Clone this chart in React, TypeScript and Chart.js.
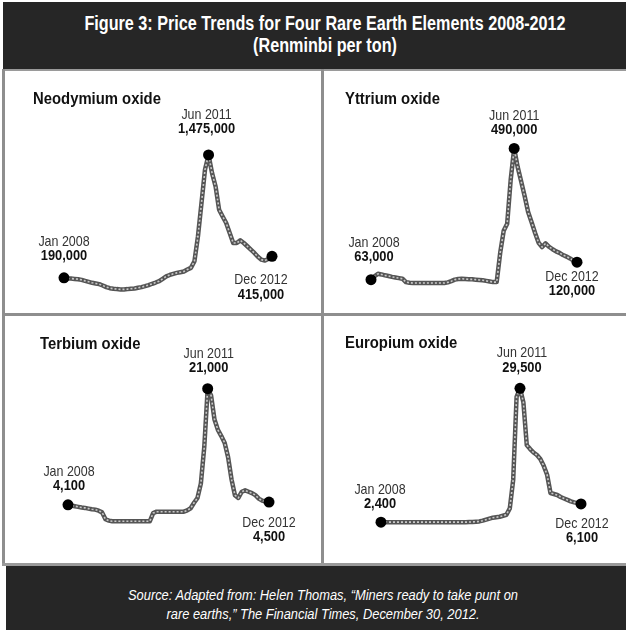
import React, { useEffect, useRef } from "react";
import { Chart, registerables } from "chart.js";

Chart.register(...registerables);

// ---- data ----
const MONTH_NAMES = ["Jan", "Feb", "Mar", "Apr", "May", "Jun", "Jul", "Aug", "Sep", "Oct", "Nov", "Dec"];
const YEARS = [2008, 2009, 2010, 2011, 2012];
const MONTHS: string[] = YEARS.flatMap((y) => MONTH_NAMES.map((m) => `${m} ${y}`));

const NEODYMIUM = [
  190000, 183000, 182000, 179000, 176000, 169000, 158000, 148000, 138000, 131000,
  124000, 110000, 93000, 82000, 76000, 72000, 69000, 69000, 72000, 76000,
  79000, 86000, 93000, 103000, 114000, 128000, 141000, 155000, 180000, 205000,
  220000, 232000, 242000, 249000, 256000, 277000, 294000, 364000, 625000, 973000,
  1322000, 1475000, 1285000, 1145000, 902000, 832000, 763000, 659000, 554000, 554000,
  582000, 554000, 520000, 485000, 450000, 410000, 380000, 370000, 390000, 415000,
];

const YTTRIUM = [
  63000, 74000, 82000, 80000, 77000, 75000, 72000, 70000, 68000, 66000,
  55000, 53000, 52000, 52000, 52000, 52000, 52000, 52000, 52000, 52000,
  52000, 52000, 54000, 58000, 63000, 65000, 66000, 65000, 64000, 64000,
  63000, 62000, 61000, 59000, 57000, 55000, 55000, 150000, 222000, 245000,
  387000, 490000, 430000, 383000, 335000, 283000, 250000, 215000, 183000, 169000,
  181000, 170000, 162000, 155000, 150000, 143000, 138000, 132000, 125000, 120000,
];

const TERBIUM = [
  4100, 4000, 3900, 3800, 3700, 3650, 3550, 3450, 3400, 3250,
  3000, 2000, 1800, 1700, 1700, 1700, 1700, 1700, 1700, 1700,
  1700, 1700, 1700, 1700, 1700, 2900, 3100, 3100, 3100, 3100,
  3100, 3100, 3100, 3100, 3100, 3300, 3600, 4400, 5100, 7200,
  12500, 21000, 20000, 16500, 15000, 14100, 13100, 11000, 7800, 5500,
  5100, 6000, 6200, 6000, 5800, 5500, 5000, 4700, 4550, 4500,
];

const EUROPIUM = [
  2400, 2400, 2400, 2400, 2400, 2400, 2400, 2400, 2400, 2400,
  2400, 2400, 2400, 2400, 2400, 2400, 2400, 2400, 2400, 2400,
  2400, 2400, 2400, 2400, 2400, 2400, 2420, 2450, 2500, 2550,
  2700, 2900, 3100, 3300, 3400, 3500, 3700, 3900, 5200, 11000,
  27800, 29500, 26700, 18000, 17200, 16500, 16000, 15200, 13800, 12000,
  8300, 8100, 7900, 7500, 7200, 6900, 6600, 6400, 6250, 6100,
];

const PANEL_TITLES = ["Neodymium oxide", "Yttrium oxide", "Terbium oxide", "Europium oxide"];
const PANEL_SERIES = [NEODYMIUM, YTTRIUM, TERBIUM, EUROPIUM];
const Y_MAX = [1600000, 550000, 24000, 32000];

const HEADER_LINES = ["Figure 3: Price Trends for Four Rare Earth Elements 2008-2012", "(Renminbi per ton)"];
const FOOTER_LINES = [
  "Source: Adapted from: Helen Thomas, \u201cMiners ready to take punt on",
  "rare earths,\u201d The Financial Times, December 30, 2012.",
];

// ---- layout (positions only) ----
type Off = [number, number];
interface PanelLayout {
  left: number;
  top: number;
  width: number;
  height: number;
  pad: { left: number; right: number; top: number; bottom: number };
  titleX: number;
  titleY: number;
  first: Off;
  peak: Off;
  last: Off;
}

const LAYOUTS: PanelLayout[] = [
  { left: 5, top: 72, width: 316, height: 240, pad: { left: 59, right: 49, top: 71, bottom: 16 }, titleX: 33, titleY: 88, first: [0, -36], peak: [-2, -40], last: [-11, 24] },
  { left: 325, top: 72, width: 301, height: 240, pad: { left: 46, right: 49, top: 58, bottom: 13 }, titleX: 345, titleY: 88, first: [3, -37], peak: [0, -33], last: [-5, 15] },
  { left: 5, top: 317, width: 316, height: 248, pad: { left: 63, right: 52, top: 51, bottom: 32 }, titleX: 40, titleY: 333, first: [1, -33], peak: [1, -35], last: [0, 21] },
  { left: 325, top: 317, width: 301, height: 248, pad: { left: 56, right: 45, top: 59, bottom: 31 }, titleX: 345, titleY: 332, first: [-1, -32], peak: [2, -35], last: [1, 20] },
];

const SANS = "'Liberation Sans', Arial, sans-serif";
const SQUEEZE = 0.83;

function fmt(v: number) {
  return v.toLocaleString("en-US");
}

function peakIndex(arr: number[]) {
  let idx = 0;
  arr.forEach((v, i) => {
    if (v > arr[idx]) idx = i;
  });
  return idx;
}

function narrowText(ctx: CanvasRenderingContext2D, text: string, x: number, y: number) {
  ctx.save();
  ctx.translate(x, y);
  ctx.scale(SQUEEZE, 1);
  ctx.fillText(text, 0, 0);
  ctx.restore();
}

const labelPlugin = {
  id: "endLabels",
  afterDatasetsDraw(chart: any, _args: any, opts: any) {
    const ctx = chart.ctx as CanvasRenderingContext2D;
    const meta = chart.getDatasetMeta(0);
    const data = chart.data.datasets[0].data as number[];
    const labels = chart.data.labels as string[];
    const pk = peakIndex(data);
    const items: [number, Off][] = [
      [0, opts.first],
      [pk, opts.peak],
      [data.length - 1, opts.last],
    ];
    ctx.save();
    ctx.textAlign = "center";
    ctx.textBaseline = "middle";
    items.forEach(([i, off]) => {
      const p = meta.data[i];
      const x = p.x + off[0];
      const y = p.y + off[1];
      ctx.fillStyle = "#333";
      ctx.font = `15px ${SANS}`;
      narrowText(ctx, labels[i], x, y);
      ctx.fillStyle = "#111";
      ctx.font = `bold 15.5px ${SANS}`;
      narrowText(ctx, fmt(data[i]), x, y + 14);
    });
    ctx.restore();
  },
};

function Panel({ idx }: { idx: number }) {
  const ref = useRef<HTMLCanvasElement | null>(null);
  const L = LAYOUTS[idx];
  useEffect(() => {
    if (!ref.current) return;
    const series = PANEL_SERIES[idx];
    const pk = peakIndex(series);
    const last = series.length - 1;
    const chart = new Chart(ref.current, {
      type: "line",
      data: {
        labels: MONTHS,
        datasets: [
          {
            data: series,
            borderColor: "#c9c9c9",
            borderWidth: 1.6,
            borderDash: [2, 2],
            borderJoinStyle: "round",
            tension: 0,
            clip: false as any,
            pointRadius: (c: any) => (c.dataIndex === 0 || c.dataIndex === pk || c.dataIndex === last ? 5.5 : 0),
            pointBackgroundColor: "#000",
            pointBorderColor: "#000",
            pointBorderWidth: 0,
          },
          {
            data: series,
            borderColor: "#555555",
            borderWidth: 4.5,
            borderJoinStyle: "round",
            borderCapStyle: "round",
            tension: 0,
            clip: false as any,
            pointRadius: 0,
          },
        ],
      },
      options: {
        responsive: false,
        animation: false,
        events: [],
        layout: { padding: L.pad },
        scales: {
          x: { display: false, offset: false },
          y: { display: false, min: 0, max: Y_MAX[idx] },
        },
        plugins: {
          legend: { display: false },
          tooltip: { enabled: false },
          title: { display: false },
          endLabels: { first: L.first, peak: L.peak, last: L.last },
        } as any,
      },
      plugins: [labelPlugin],
    });
    return () => chart.destroy();
  }, [idx]);
  return (
    <>
      <canvas
        ref={ref}
        width={L.width}
        height={L.height}
        style={{ position: "absolute", left: L.left, top: L.top, width: L.width, height: L.height }}
      />
      <div
        style={{
          position: "absolute",
          left: L.titleX,
          top: L.titleY,
          font: `bold 16.5px ${SANS}`,
          color: "#111",
          lineHeight: "20px",
          whiteSpace: "nowrap",
          transform: "scaleX(0.9)",
          transformOrigin: "left center",
        }}
      >
        {PANEL_TITLES[idx]}
      </div>
    </>
  );
}

const rule = (left: number, top: number, width: number, height: number, bg = "#8e8e8e") => (
  <div style={{ position: "absolute", left, top, width, height, background: bg }} />
);

const centeredLine = (text: string, top: number, font: string, width: number) => (
  <div
    style={{
      position: "absolute",
      left: 0,
      width,
      top,
      textAlign: "center",
      whiteSpace: "nowrap",
      font,
      transform: `scaleX(${SQUEEZE})`,
      transformOrigin: "center center",
    }}
  >
    {text}
  </div>
);

export default function App() {
  return (
    <div
      style={{
        position: "absolute",
        left: 0,
        top: 0,
        width: 626,
        height: 630,
        overflow: "hidden",
        background: "#fff",
      }}
    >
      {/* header */}
      <div
        style={{
          position: "absolute",
          left: 3,
          top: 2,
          width: 623,
          height: 67,
          background: "#262626",
          color: "#fff",
        }}
      >
        {centeredLine(HEADER_LINES[0], 9, `bold 19.5px/24px ${SANS}`, 644)}
        {centeredLine(HEADER_LINES[1], 31, `bold 19.5px/24px ${SANS}`, 644)}
      </div>
      {/* borders */}
      {rule(2, 69, 624, 2, "#9a9a9a")}
      {rule(2, 69, 3, 497)}
      {rule(321, 69, 3, 497)}
      {rule(2, 313, 624, 3)}
      {rule(2, 563, 624, 3, "#9a9a9a")}
      {[0, 1, 2, 3].map((i) => (
        <Panel key={i} idx={i} />
      ))}
      {/* footer */}
      <div
        style={{
          position: "absolute",
          left: 6,
          top: 566,
          width: 620,
          height: 64,
          background: "#262626",
          color: "#fff",
        }}
      >
        {centeredLine(FOOTER_LINES[0], 19, `italic 15.5px/20px ${SANS}`, 634)}
        {centeredLine(FOOTER_LINES[1], 38, `italic 15.5px/20px ${SANS}`, 634)}
      </div>
    </div>
  );
}
